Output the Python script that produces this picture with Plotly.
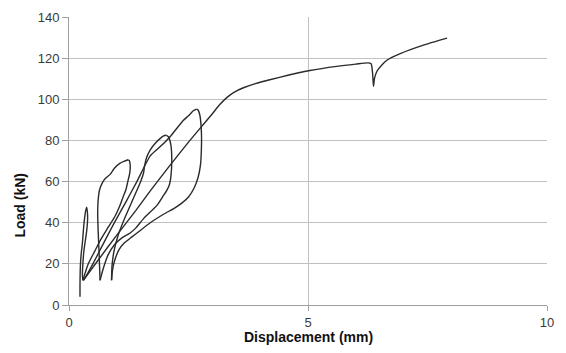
import plotly.graph_objects as go

# ---- data (displacement mm, load kN) ----
spike_x = [0.23, 0.23, 0.235, 0.245, 0.26, 0.28, 0.30, 0.32, 0.35, 0.37, 0.385, 0.39, 0.37, 0.34, 0.31, 0.29, 0.28, 0.29]
spike_y = [4, 10, 17, 22, 26, 30, 36, 41, 46, 47.5, 45, 42, 36, 31, 26, 20, 15, 12]

load2_x = [0.29, 0.40, 0.54, 0.68, 0.82, 0.96, 1.05, 1.14, 1.19, 1.23, 1.27, 1.28, 1.26, 1.24]
load2_y = [12, 19.8, 26.2, 32.5, 37.8, 43, 47.5, 53, 56, 60, 64, 68, 70.3, 70.6]

unload2_x = [1.24, 1.15, 1.07, 0.95, 0.86, 0.76, 0.70, 0.64, 0.61, 0.60, 0.61, 0.63, 0.65]
unload2_y = [70.6, 69.8, 69, 66.5, 63.5, 61.5, 59.5, 56, 51, 45, 36, 25, 12]

load3_x = [0.65, 0.72, 0.82, 0.96, 1.10, 1.28, 1.40, 1.56, 1.84, 1.97, 2.04, 2.10, 2.13, 2.15, 2.13, 2.08, 2.04]
load3_y = [12, 18, 24.5, 29.5, 32.5, 35, 37.5, 42, 48.4, 53, 55.5, 58.5, 62, 70.6, 78, 81.8, 82.5]

unload3_x = [2.04, 1.98, 1.91, 1.80, 1.70, 1.62, 1.58, 1.56, 1.50, 1.35, 1.18, 1.03, 0.94, 0.90, 0.89]
unload3_y = [82.5, 82.2, 81, 78.5, 75.4, 71.5, 67.5, 64.3, 60, 52, 43, 34, 26, 19, 12]

load4_x = [0.89, 0.91, 0.96, 1.05, 1.15, 1.31, 1.45, 1.70, 1.97, 2.20, 2.36, 2.50, 2.62, 2.70, 2.75, 2.77, 2.77, 2.74, 2.70, 2.67]
load4_y = [12, 17, 22, 27, 30, 33, 35.5, 40, 44, 47, 49.5, 52.5, 57, 62, 68, 76, 84, 92, 94.8, 95.2]

unload4_x = [2.67, 2.60, 2.50, 2.39, 2.11, 1.91, 1.70, 1.42, 1.20, 0.95, 0.70, 0.50, 0.33, 0.30]
unload4_y = [95.2, 94.4, 92, 89.7, 81.7, 77, 72.5, 60, 50.5, 40, 29, 20, 13, 12]

final_x = [0.30, 0.60, 1.00, 1.40, 1.70, 2.10, 2.53, 2.80, 3.00, 3.15, 3.30, 3.45, 3.65, 3.90, 4.20, 4.60, 5.04, 5.60, 6.00, 6.25, 6.32, 6.35, 6.37, 6.39, 6.44, 6.55, 6.65, 6.93, 7.40, 7.91]
final_y = [12, 21.5, 34, 46, 55.5, 67.5, 80, 87.5, 93, 97.3, 100.8, 103.4, 105.6, 107.6, 109.5, 111.8, 114.0, 116.0, 117.1, 117.7, 117.3, 113, 106.3, 110, 113.5, 116.8, 119, 122.2, 126.2, 129.7]

branches = [(spike_x, spike_y), (load2_x, load2_y), (unload2_x, unload2_y),
            (load3_x, load3_y), (unload3_x, unload3_y), (load4_x, load4_y),
            (unload4_x, unload4_y), (final_x, final_y)]

y_ticks = [0, 20, 40, 60, 80, 100, 120, 140]
x_ticks = [0, 5, 10]

fig = go.Figure()
for bx, by in branches:
    fig.add_trace(go.Scatter(x=bx, y=by, mode="lines",
                             line=dict(color="#2b2b2b", width=1.4, shape="spline", smoothing=0.6),
                             showlegend=False, hoverinfo="skip"))

font_family = "Liberation Sans, Arial, sans-serif"
fig.update_layout(
    width=566, height=353,
    margin=dict(l=69, r=19, t=10, b=48),
    paper_bgcolor="white", plot_bgcolor="white",
    font=dict(family=font_family, size=13, color="#3a3a3a"),
    xaxis=dict(range=[0, 10], tickvals=x_ticks, showgrid=True, gridcolor="#c0c0c0", gridwidth=1,
               showline=True, linecolor="#a0a0a0", linewidth=1, ticks="outside", ticklen=5, tickcolor="#a0a0a0",
               zeroline=False, tickfont=dict(size=13, color="#3a3a3a")),
    yaxis=dict(range=[0, 140], tickvals=y_ticks, showgrid=True, gridcolor="#c0c0c0", gridwidth=1,
               showline=True, linecolor="#a0a0a0", linewidth=1, ticks="outside", ticklen=6, tickcolor="#a0a0a0",
               zeroline=False, tickfont=dict(size=13, color="#3a3a3a")),
    annotations=[
        dict(text="<b>Displacement (mm)</b>", xref="paper", yref="paper", x=0.5, y=-0.112,
             xanchor="center", yanchor="middle", showarrow=False, font=dict(size=14, color="#111111")),
        dict(text="<b>Load (kN)</b>", xref="paper", yref="paper", x=-0.102, y=0.346,
             xanchor="center", yanchor="middle", textangle=-90, showarrow=False, font=dict(size=14, color="#111111")),
    ],
)

fig.write_html("out.html")
